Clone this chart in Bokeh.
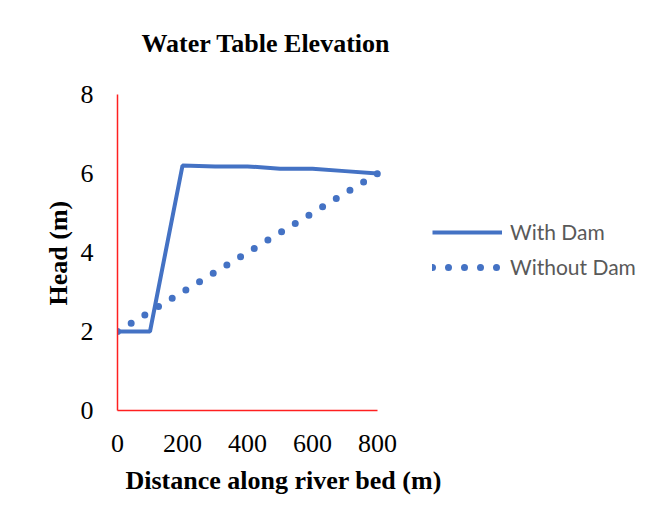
from bokeh.plotting import figure
from bokeh.models import Range1d, Legend, LegendItem, FixedTicker, Title
from bokeh.embed import file_html
from bokeh.resources import INLINE

distance = [0, 100, 200, 300, 400, 500, 600, 700, 800]
with_dam = [2.0, 2.0, 6.2, 6.18, 6.18, 6.12, 6.12, 6.06, 6.0]
without_dam = [2.0, 2.5, 3.0, 3.5, 4.0, 4.5, 5.0, 5.5, 6.0]
x_ticks = [0, 200, 400, 600, 800]
y_ticks = [0, 2, 4, 6, 8]

BLUE = "#4472C4"
SERIF = "Liberation Serif"

# axes occupy x 117..377 px and y 94..410 px; the frame is widened to the
# right (legend) and upward so annotations are not clipped
FRAME_L, AXIS_R, FRAME_R = 117, 377, 660
FRAME_T, AXIS_T, FRAME_B = 70, 94, 410
x_end = 800 * (FRAME_R - FRAME_L) / (AXIS_R - FRAME_L)
y_end = 8 * (FRAME_B - FRAME_T) / (FRAME_B - AXIS_T)

p = figure(width=670, height=529, output_backend="svg", toolbar_location=None,
           x_range=Range1d(0, x_end), y_range=Range1d(0, y_end),
           min_border_left=FRAME_L, min_border_right=670 - FRAME_R,
           min_border_top=FRAME_T, min_border_bottom=529 - FRAME_B,
           title="Water Table Elevation")

p.title.text_font = SERIF
p.title.text_font_size = "26px"
p.title.text_font_style = "bold"
p.title.align = "left"
p.title.offset = 24
p.title.standoff = 26
p.title.text_color = "black"

p.grid.visible = False
p.outline_line_color = None

for ax in (p.xaxis, p.yaxis):
    ax.axis_line_color = "#FF2020"
    ax.axis_line_width = 1.5
    ax.major_tick_line_color = None
    ax.minor_tick_line_color = None
    ax.major_label_text_font = SERIF
    ax.major_label_text_font_size = "26px"
    ax.major_label_text_color = "black"

p.xaxis.bounds = (0, 800)
p.yaxis.bounds = (0, 8)
p.xaxis.ticker = FixedTicker(ticks=x_ticks)
p.yaxis.ticker = FixedTicker(ticks=y_ticks)
p.xaxis.major_label_standoff = 18
p.yaxis.major_label_standoff = 18

x_title = Title(text="Distance along river bed (m)", align="left", offset=8,
                standoff=18, text_font=SERIF, text_font_size="26px",
                text_font_style="bold", text_color="black")
p.add_layout(x_title, "below")

y_title = Title(text="Head (m)", align="left", offset=105,
                standoff=10, text_font=SERIF, text_font_size="26px",
                text_font_style="bold", text_color="black")
p.add_layout(y_title, "left")

r1 = p.line(distance, with_dam, line_color=BLUE, line_width=4)
r2 = p.line(distance, without_dam, line_color=BLUE, line_width=7,
            line_dash="0 16", line_cap="round")

legend = Legend(items=[LegendItem(label="With Dam", renderers=[r1]),
                       LegendItem(label="Without Dam", renderers=[r2])],
                location=(315, 131), orientation="vertical",
                glyph_width=70, glyph_height=20, label_height=20,
                label_standoff=8, spacing=10, padding=0, margin=0,
                border_line_color=None, background_fill_alpha=0,
                label_text_font="Lato", label_text_font_size="21px",
                label_text_color="#595959")
p.add_layout(legend)

open("out.html", "w").write(file_html(p, INLINE))
